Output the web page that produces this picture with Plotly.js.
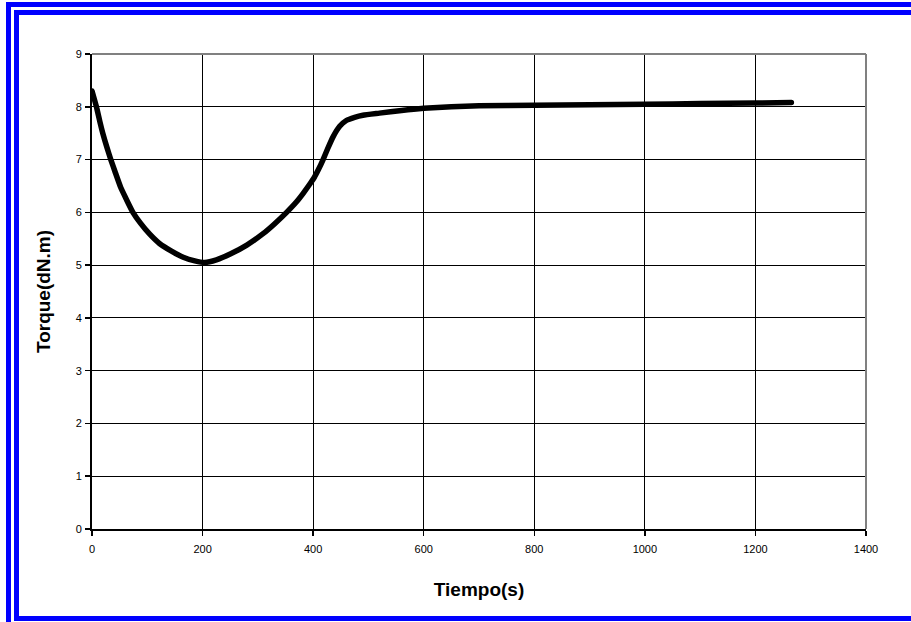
<!DOCTYPE html>
<html>
<head>
<meta charset="utf-8">
<script src="https://cdn.plot.ly/plotly-3.0.1.min.js"></script>
<style>
  html, body { margin: 0; padding: 0; background: #fff; overflow: hidden; }
  #wrap { position: relative; width: 911px; height: 622px; overflow: hidden; }
  #chart { position: absolute; left: 0; top: 0; width: 911px; height: 622px; }
  #chart path.js-line { stroke-linecap: round !important; stroke-linejoin: round !important; }
  .frame { position: absolute; pointer-events: none; box-sizing: content-box; }
  #frameOuter { left: 6px; top: 2px; width: 1000px; height: 1000px;
                border-left: 5px solid #0000ff; border-top: 5px solid #0000ff; }
  #frameInner { left: 14px; top: 10px; width: 1000px; height: 601px;
                border-left: 5px solid #0000ff; border-top: 5px solid #0000ff;
                border-bottom: 5px solid #0000ff; }
</style>
</head>
<body>
<div id="wrap">
  <div id="chart"></div>
  <div class="frame" id="frameOuter"></div>
  <div class="frame" id="frameInner"></div>
</div>
<script>
// Torque curve over time
const tiempo = [0, 8, 14, 20, 27, 34, 42, 52, 62, 74, 88, 104, 122, 143, 165, 186, 204, 225, 250,
                280, 310, 330, 352, 370, 382, 395, 402, 410, 418, 426, 436, 448, 460, 475, 490,
                520, 560, 600, 650, 700, 800, 900, 1000, 1100, 1200, 1265];
const torque = [8.30, 8.00, 7.73, 7.48, 7.23, 7.00, 6.76, 6.47, 6.25, 6.00, 5.79, 5.59, 5.41, 5.27,
                5.15, 5.08, 5.05, 5.10, 5.21, 5.38, 5.60, 5.78, 6.00, 6.20, 6.36, 6.55, 6.66, 6.82,
                7.00, 7.20, 7.43, 7.63, 7.74, 7.80, 7.84, 7.88, 7.93, 7.97, 8.00, 8.02, 8.03, 8.04,
                8.05, 8.06, 8.07, 8.08];

const xTicks = [0, 200, 400, 600, 800, 1000, 1200, 1400];
const yTicks = [0, 1, 2, 3, 4, 5, 6, 7, 8, 9];

const trace = {
  x: tiempo,
  y: torque,
  type: 'scatter',
  mode: 'lines',
  line: { color: '#000000', width: 5.5, shape: 'spline', smoothing: 0.5 },
  hoverinfo: 'skip'
};

const fontFamily = 'Arial, "Liberation Sans", sans-serif';
const axisFont = { family: fontFamily, size: 11, color: '#000' };
const titleFont = { family: fontFamily, size: 19, color: '#000', weight: 'bold' };

const layout = {
  width: 911,
  height: 622,
  margin: { l: 92, r: 45, t: 54, b: 93, pad: 0 },
  paper_bgcolor: '#ffffff',
  plot_bgcolor: '#ffffff',
  showlegend: false,
  xaxis: {
    range: [0, 1400],
    tickmode: 'array',
    tickvals: xTicks,
    ticktext: xTicks.map(String),
    showgrid: true,
    gridcolor: '#000000',
    gridwidth: 1,
    zeroline: false,
    showline: true,
    linecolor: '#000000',
    linewidth: 2,
    ticks: 'outside',
    ticklen: 5,
    tickwidth: 1.5,
    tickcolor: '#000000',
    ticklabelstandoff: 4,
    tickfont: axisFont,
    title: { text: 'Tiempo(s)', standoff: 28, font: titleFont }
  },
  yaxis: {
    range: [0, 9],
    tickmode: 'array',
    tickvals: yTicks,
    ticktext: yTicks.map(String),
    showgrid: true,
    gridcolor: '#000000',
    gridwidth: 1,
    zeroline: false,
    showline: true,
    linecolor: '#000000',
    linewidth: 2,
    ticks: 'outside',
    ticklen: 5,
    tickwidth: 1.5,
    tickcolor: '#000000',
    ticklabelstandoff: 1,
    tickfont: axisFont,
    title: { text: 'Torque(dN.m)', standoff: 20, font: titleFont }
  },
  shapes: [
    { type: 'line', xref: 'paper', yref: 'paper', x0: 0, x1: 1, y0: 1, y1: 1,
      line: { color: '#808080', width: 2 } },
    { type: 'line', xref: 'paper', yref: 'paper', x0: 1, x1: 1, y0: 0, y1: 1,
      line: { color: '#808080', width: 2 } }
  ]
};

Plotly.newPlot('chart', [trace], layout, { staticPlot: true, displayModeBar: false });
</script>
</body>
</html>
